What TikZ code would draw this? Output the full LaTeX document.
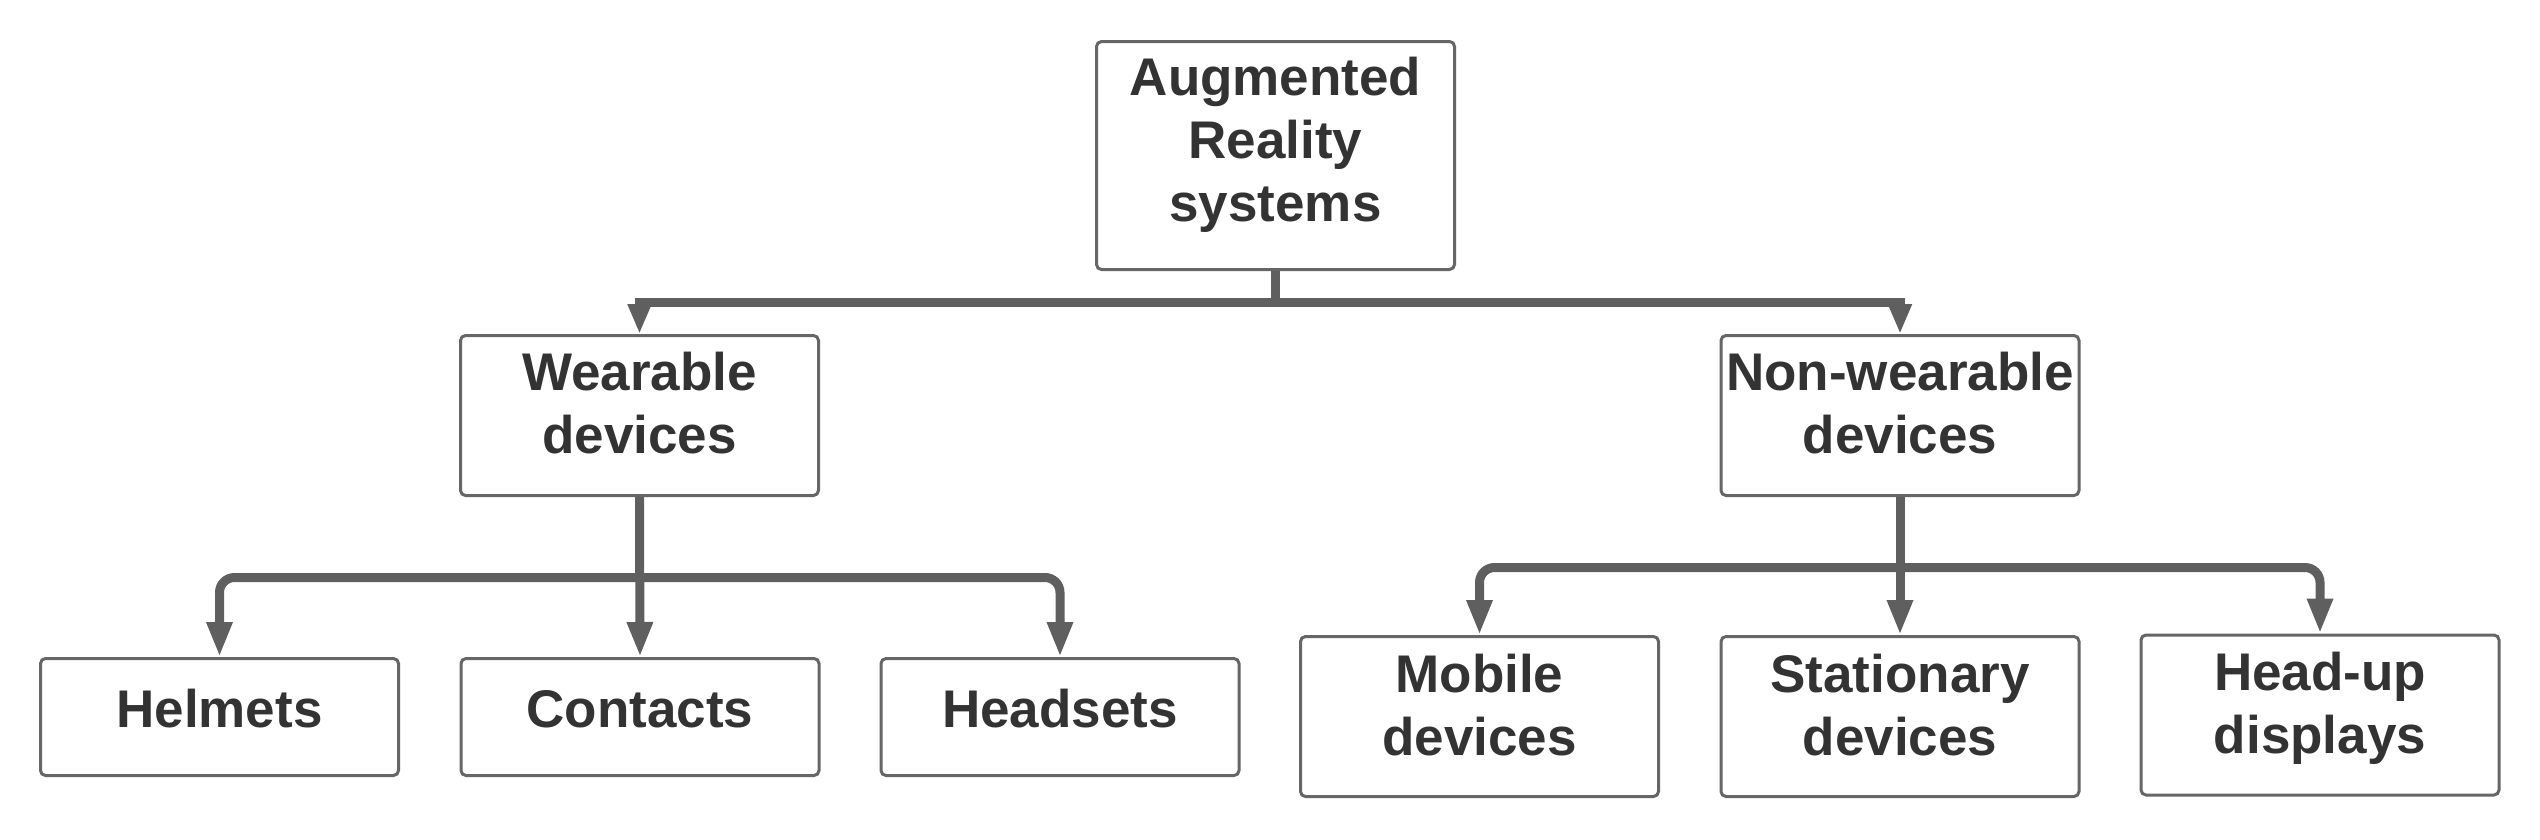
\documentclass[tikz,border=0pt]{standalone}
\usepackage{fontspec}
\setmainfont{Liberation Sans}
\usetikzlibrary{arrows.meta}
\definecolor{linec}{HTML}{5F5F5F}
\definecolor{boxc}{HTML}{666666}
\definecolor{txtc}{HTML}{333333}
\newcommand\tp{\rule{0pt}{40pt}}
\newcommand\dn[1]{\rule[-#1]{0pt}{#1}}
\begin{document}
\begin{tikzpicture}[x=1pt,y=-1pt,
  box/.style={draw=boxc, line width=3pt, rounded corners=5pt, fill=white,
    minimum width=358pt, align=center, inner sep=0pt, text=txtc,
    font=\fontsize{53}{63}\selectfont\bfseries},
  conn/.style={draw=linec, line width=9pt, -{Triangle[length=35pt,width=24pt]}, rounded corners=15pt},
  topconn/.style={draw=linec, line width=9pt, -{Triangle[length=30pt,width=22pt]}},
  plain/.style={draw=linec, line width=9pt}]
\useasboundingbox (0,0) rectangle (2540,839);

\node[box, minimum height=228pt] (root) at (1275.5,155.5) {\tp Augmented\\Reality\\systems\dn{34pt}};
\node[box, minimum height=160pt] (wear) at (639.5,415.5) {\tp Wearable\\devices\dn{27.5pt}};
\node[box, minimum height=160pt] (nonw) at (1900,415.5) {\tp Non-wearable\\devices\dn{27.5pt}};
\node[box, minimum height=117pt] (helm) at (219.5,717) {\tp Helmets\dn{20pt}};
\node[box, minimum height=117pt] (cont) at (640,717) {\tp Contacts\dn{20pt}};
\node[box, minimum height=117pt] (head) at (1060,717) {\tp Headsets\dn{20pt}};
\node[box, minimum height=160pt] (mob) at (1479.5,716.5) {\tp Mobile\\devices\dn{26pt}};
\node[box, minimum height=160pt] (stat) at (1900,716.5) {\tp Stationary\\devices\dn{26pt}};
\node[box, minimum height=160pt] (hud) at (2320,715) {\tp Head-up\\displays\dn{26pt}};

\coordinate (j1) at (1275.5,302.5);
\coordinate (j2) at (639.5,577.5);
\coordinate (j3) at (1900,567.5);

\draw[plain] (root.south) -- (j1);
\draw[topconn] (j1) -| (wear.north);
\draw[topconn] (j1) -| (nonw.north);

\draw[conn] (wear.south) -- (cont.north);
\draw[conn] (j2) -| (helm.north);
\draw[conn] (j2) -| (head.north);

\draw[conn] (nonw.south) -- (stat.north);
\draw[conn] (j3) -| (mob.north);
\draw[conn] (j3) -| (hud.north);
\end{tikzpicture}
\end{document}
